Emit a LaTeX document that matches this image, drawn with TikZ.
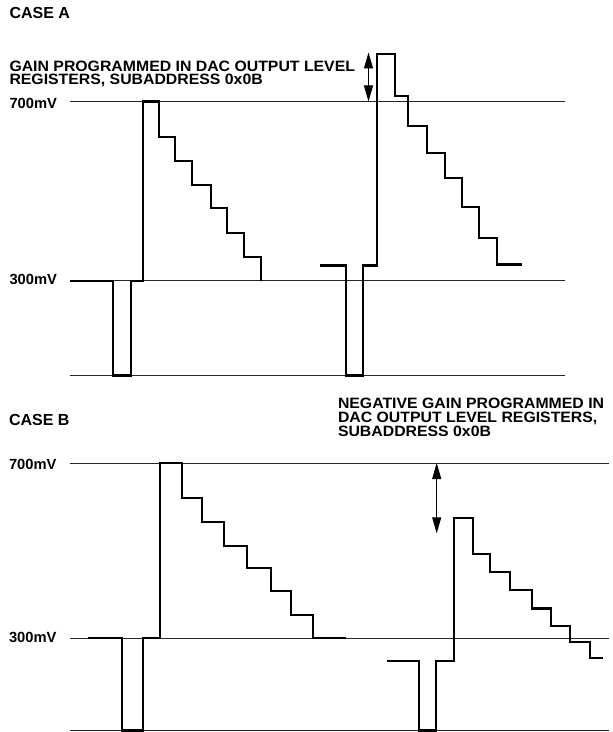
\documentclass[tikz,border=0pt]{standalone}
\usepackage{fontspec}
\setmainfont{Liberation Sans}
\newfontfamily\plainbold{Liberation Sans Bold}
\newfontfamily\lblfont{Liberation Sans Bold}[FakeStretch=1.055]
\usetikzlibrary{arrows.meta}
\tikzset{
  txt/.style={anchor=base west, inner sep=0pt, outer sep=0pt},
  casetxt/.style={txt, font=\plainbold\fontsize{16bp}{16bp}\selectfont},
  notetxt/.style={txt, font=\lblfont\fontsize{15bp}{15bp}\selectfont},
  mvtxt/.style={txt, font=\plainbold\fontsize{14.7bp}{14.7bp}\selectfont},
  level/.style={line width=0.9bp, black!85},
  wave/.style={line width=2.3bp, black, line join=miter},
  gainarrow/.style={line width=1bp, {Triangle[length=16bp,width=9bp]}-{Triangle[length=16bp,width=9bp]}}
}
\begin{document}
\begin{tikzpicture}[x=1bp,y=-1bp]
\useasboundingbox (0,0) rectangle (613,732);

% ---------- CASE A ----------
\node[casetxt] (caseA) at (9.5,19) {CASE A};
\node[notetxt] (gainA1) at (9.5,71.5) {GAIN PROGRAMMED IN DAC OUTPUT LEVEL};
\node[notetxt] (gainA2) at (9.5,85) {REGISTERS, SUBADDRESS 0x0B};
\node[mvtxt] (mvA7) at (9.5,108.3) {700mV};
\node[mvtxt] (mvA3) at (9.5,284.3) {300mV};

\draw[level] (70,101.5) -- (565,101.5);
\draw[level] (70,280.7) -- (565,280.7);
\draw[level] (70,375.5) -- (565,375.5);

\draw[wave] (70,280.7) -| (112.7,375.5) -| (130.7,280.7) -| (143.3,101.5)
  -| (159.3,137.3) -| (175,161) -| (191.7,185) -| (210.7,208.3)
  -| (227.3,232.7) -| (244,256.7) -| (260.7,280.7);

\draw[wave] (320,265.5) -| (346,375.5) -| (362.7,265.5) -| (376.7,54)
  -| (395,96) -| (407.7,125.7) -| (426.7,152.7) -| (445.3,178.3)
  -| (462.3,206.7) -| (479,238.3) -| (496.7,264.5) -- (522.3,264.5);

\coordinate (aTop) at (368.5,52.5);
\coordinate (aBot) at (368.5,101.5);
\draw[gainarrow] (aTop) -- (aBot);

% ---------- CASE B ----------
\node[casetxt] (caseB) at (9,425) {CASE B};
\node[notetxt] (negB1) at (338,408.3) {NEGATIVE GAIN PROGRAMMED IN};
\node[notetxt] (negB2) at (338,422.4) {DAC OUTPUT LEVEL REGISTERS,};
\node[notetxt] (negB3) at (338,436.7) {SUBADDRESS 0x0B};
\node[mvtxt] (mvB7) at (9,469) {700mV};
\node[mvtxt] (mvB3) at (9,642.5) {300mV};

\draw[level] (70,463) -- (609,463);
\draw[level] (70,638.3) -- (609,638.3);
\draw[level] (70,730.5) -- (609,730.5);

\draw[wave] (88.3,638.3) -| (122.3,730.5) -| (143.3,638.3) -| (160,463)
  -| (181.7,498.3) -| (201.7,521.7) -| (224,545.7) -| (247.3,567.7)
  -| (270.7,591) -| (290.7,615) -| (313.3,638.3) -- (345.7,638.3);

\draw[wave] (386.7,661) -| (419,730.5) -| (436,661) -| (454,518)
  -| (473.3,554) -| (490,571.7) -| (510,590) -| (531.7,608.5)
  -| (550.8,626.3) -| (570,641.7) -| (590,658.3) -- (603.3,658.3);

\coordinate (bTop) at (436.7,463);
\coordinate (bBot) at (436.7,533.3);
\draw[gainarrow] (bTop) -- (bBot);
\end{tikzpicture}
\end{document}
